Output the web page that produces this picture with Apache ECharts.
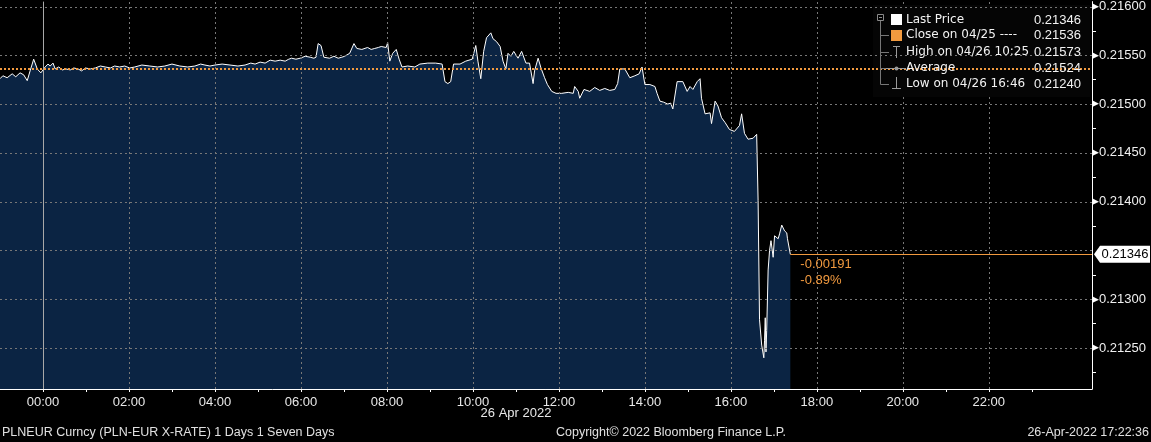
<!DOCTYPE html>
<html>
<head>
<meta charset="utf-8">
<script src="https://cdn.jsdelivr.net/npm/echarts@6/dist/echarts.min.js"></script>
<style>
html,body{margin:0;padding:0;background:#000;}
#chart{width:1151px;height:442px;}
</style>
</head>
<body>
<div id="chart"></div>
<script>
// minutes from 00:00 on 26 Apr 2022 (negative = 25 Apr evening)
const times = [
-60,-56,-50,-43,-38,-32,-27,-22,-18,-13,
-8,-3,3,7,10,14,17,22,27,32,
38,43,49,54,59,66,73,80,87,94,
100,107,114,121,128,138,149,160,170,180,
191,202,212,220,226,233,240,250,261,272,
282,290,296,303,310,317,324,331,338,343,
347,353,359,366,373,378,381,384,388,392,
400,406,412,417,421,428,434,438,445,453,
458,463,468,472,479,481,484,488,493,497,
501,509,519,526,537,548,557,561,565,569,
573,582,590,599,604,607,611,615,619,625,
628,633,638,642,646,649,653,657,663,668,
674,679,684,686,691,695,700,704,710,716,
724,733,740,742,747,749,755,763,770,777,
784,791,798,802,805,812,819,826,832,836,
840,847,854,857,861,866,872,876,879,885,
893,899,903,907,913,917,919,924,931,933,
938,942,947,952,958,965,972,975,979,984,
991,996,998,1000,1003,1006,1007,1008,1009,1010,
1012,1014,1016,1019,1021,1026,1028,1031,1033,1035,
1038,1039,1043
];
const prices = [
0.21526,0.21529,0.21527,0.21531,0.21528,0.21532,0.21530,0.21524,0.21534,0.21546,
0.21536,0.21532,0.21538,0.21541,0.21539,0.21542,0.21536,0.21538,0.21535,0.21536,
0.21535,0.21537,0.21536,0.21534,0.21537,0.21536,0.21537,0.21539,0.21538,0.21537,
0.21539,0.21538,0.21539,0.21537,0.21538,0.21540,0.21539,0.21538,0.21539,0.21541,
0.21539,0.21538,0.21539,0.21541,0.21540,0.21539,0.21540,0.21541,0.21540,0.21539,
0.21540,0.21542,0.21541,0.21543,0.21542,0.21545,0.21544,0.21545,0.21544,0.21546,
0.21547,0.21546,0.21547,0.21549,0.21548,0.21547,0.21548,0.21562,0.21560,0.21548,
0.21547,0.21549,0.21547,0.21548,0.21549,0.21552,0.21562,0.21557,0.21556,0.21558,
0.21556,0.21557,0.21558,0.21559,0.21558,0.21563,0.21544,0.21552,0.21556,0.21546,
0.21538,0.21539,0.21538,0.21541,0.21542,0.21542,0.21541,0.21523,0.21521,0.21523,
0.21541,0.21541,0.21544,0.21546,0.21560,0.21544,0.21526,0.21554,0.21568,0.21573,
0.21567,0.21564,0.21559,0.21544,0.21536,0.21552,0.21549,0.21554,0.21547,0.21554,
0.21542,0.21542,0.21521,0.21534,0.21547,0.21537,0.21527,0.21520,0.21513,0.21511,
0.21511,0.21512,0.21511,0.21518,0.21513,0.21506,0.21515,0.21513,0.21517,0.21514,
0.21516,0.21514,0.21515,0.21521,0.21536,0.21536,0.21527,0.21529,0.21531,0.21538,
0.21520,0.21520,0.21518,0.21511,0.21503,0.21502,0.21500,0.21501,0.21495,0.21523,
0.21523,0.21513,0.21518,0.21515,0.21523,0.21526,0.21506,0.21490,0.21491,0.21480,
0.21503,0.21498,0.21486,0.21481,0.21474,0.21472,0.21478,0.21490,0.21470,0.21464,
0.21465,0.21469,0.21401,0.21279,0.21253,0.21240,0.21258,0.21281,0.21246,0.21268,
0.21330,0.21350,0.21360,0.21343,0.21365,0.21362,0.21367,0.21376,0.21378,0.21370,
0.21368,0.21362,0.21346
];
const closePrice = 0.21536;
const lastPrice = 0.21346;
const changeTexts = ['-0.00191', '-0.89%'];

const xLabelHours = [0,2,4,6,8,10,12,14,16,18,20,22];
const xTickHours = [0,1,2,3,4,5,6,7,8,9,10,11,12,13,14,15,16,17,18,19,20,21,22,23];
const xGridHours = [2,4,6,8,10,12,14,16,18,20,22];
const dayStartHour = 0;
const yGridValues = [0.2125,0.2130,0.2135,0.2140,0.2145,0.2150,0.2155,0.2160];
const yLabelValues = [0.2125,0.2130,0.2140,0.2145,0.2150,0.2155,0.2160];
const yMinorTicks = [0.21225,0.21275,0.21325,0.21375,0.21425,0.21475,0.21525,0.21575];
const dateLabel = '26 Apr 2022';

const legendNames = ['Last Price','Close on 04/25 ----','High on 04/26 10:25','Average','Low on 04/26 16:46'];
const legendValues = ['0.21346','0.21536','0.21573','0.21524','0.21240'];

const footerLeft = 'PLNEUR Curncy (PLN-EUR X-RATE) 1 Days 1 Seven Days';
const footerMid = 'Copyright\u00A9 2022 Bloomberg Finance L.P.';
const footerRight = '26-Apr-2022 17:22:36';

const FONT = 'Liberation Sans, Arial, sans-serif';
const LFONT = 'DejaVu Sans, sans-serif';
const ORANGE = '#f29a3f';
const GRIDC = '#777777';
const X_MIN = -60, X_MAX = 1464;
const Y_MIN = 0.21208, Y_MAX = 0.21605;

const data = times.map((t, i) => [t, prices[i]]);
const lastT = times[times.length - 1];

function pad(n){ return (n < 10 ? '0' : '') + n; }
function crisp(v){ return Math.round(v) + 0.5; }

function vLineRenderer(color, dash){
  return function(params, api){
    const x = api.value(0);
    const a = api.coord([x, Y_MIN]);
    const b = api.coord([x, Y_MAX]);
    const cx = crisp(a[0]);
    return { type:'line', shape:{ x1:cx, y1:a[1], x2:cx, y2:b[1] },
      style:{ stroke:color, lineWidth:1, lineDash:dash, fill:null } };
  };
}
function hLineRenderer(color, dash, width, fromData){
  return function(params, api){
    const y = api.value(1);
    const x0 = fromData ? api.value(0) : X_MIN;
    const a = api.coord([x0, y]);
    const b = api.coord([X_MAX, y]);
    const cy = width % 2 === 1 ? crisp(a[1]) : Math.round(a[1]);
    return { type:'line', shape:{ x1:a[0], y1:cy, x2:b[0], y2:cy },
      style:{ stroke:color, lineWidth:width, lineDash:dash, fill:null } };
  };
}

// legend graphics
const rowY = [20, 35, 52, 68, 84];
const legendGraphics = [];
legendGraphics.push({ type:'rect', shape:{x:873, y:5, width:217, height:92}, style:{fill:'#050505'}, z:3.5 });
legendGraphics.push({ type:'rect', shape:{x:877.5, y:14.5, width:6, height:6}, style:{fill:'#000', stroke:'#8a8a8a', lineWidth:1}, z:11 });
legendGraphics.push({ type:'line', shape:{x1:879, y1:17.5, x2:882, y2:17.5}, style:{stroke:'#8a8a8a', lineWidth:1}, z:11 });
legendGraphics.push({ type:'line', shape:{x1:880.5, y1:21, x2:880.5, y2:84.5}, style:{stroke:'#777', lineWidth:1}, z:11 });
[35,52,68,84].forEach(y => legendGraphics.push({ type:'line', shape:{x1:880.5, y1:y+0.5, x2:889, y2:y+0.5}, style:{stroke:'#777', lineWidth:1}, z:11 }));
legendGraphics.push({ type:'rect', shape:{x:891, y:14, width:11, height:11}, style:{fill:'#ffffff'}, z:11 });
legendGraphics.push({ type:'rect', shape:{x:891, y:30, width:11, height:11}, style:{fill:ORANGE}, z:11 });
legendGraphics.push({ type:'line', shape:{x1:896.5, y1:46, x2:896.5, y2:58}, style:{stroke:'#9a9a9a', lineWidth:1}, z:11 });
legendGraphics.push({ type:'line', shape:{x1:893, y1:46.5, x2:900, y2:46.5}, style:{stroke:'#9a9a9a', lineWidth:1}, z:11 });
legendGraphics.push({ type:'line', shape:{x1:886, y1:68.5, x2:906, y2:68.5}, style:{stroke:'#9a9a9a', lineWidth:1}, z:11 });
legendGraphics.push({ type:'circle', shape:{cx:896.5, cy:68.5, r:2}, style:{fill:'#9a9a9a'}, z:11 });
legendGraphics.push({ type:'line', shape:{x1:896.5, y1:77, x2:896.5, y2:89}, style:{stroke:'#9a9a9a', lineWidth:1}, z:11 });
legendGraphics.push({ type:'line', shape:{x1:892, y1:88.5, x2:901, y2:88.5}, style:{stroke:'#9a9a9a', lineWidth:1}, z:11 });
legendNames.forEach((n, i) => {
  legendGraphics.push({ type:'text', x:906, y:rowY[i], style:{text:n, fill:'#f2f2f2', font:'12px ' + LFONT, textVerticalAlign:'middle', textAlign:'left'}, z:12 });
  legendGraphics.push({ type:'text', x:1081, y:rowY[i], style:{text:legendValues[i], fill:'#f2f2f2', font:'13px ' + FONT, textVerticalAlign:'middle', textAlign:'right'}, z:12 });
});

const chart = echarts.init(document.getElementById('chart'), null, { renderer: 'canvas' });

const option = {
  backgroundColor: '#000000',
  animation: false,
  grid: { left: 0, right: 59, top: 0, bottom: 53, containLabel: false },
  xAxis: {
    type: 'value', min: X_MIN, max: X_MAX,
    axisLine: { show: true, onZero: false, lineStyle: { color: '#ffffff', width: 1 } },
    axisTick: { show: true, customValues: xTickHours.map(h => h * 60), length: 3, lineStyle: { color: '#ffffff' } },
    axisLabel: { customValues: xLabelHours.map(h => h * 60), formatter: v => pad(Math.round(v / 60)) + ':00',
      color: '#e8e8e8', fontSize: 13, fontFamily: FONT, margin: 7 },
    splitLine: { show: false }
  },
  yAxis: {
    type: 'value', position: 'right', min: Y_MIN, max: Y_MAX, scale: true,
    axisLine: { show: true, onZero: false, lineStyle: { color: '#ffffff', width: 1 } },
    axisTick: { show: true, customValues: yMinorTicks, length: 4, lineStyle: { color: '#ffffff' } },
    axisLabel: { customValues: yLabelValues, margin: 0,
      formatter: v => '{a|\u25B6}{b|' + v.toFixed(5) + '}',
      rich: {
        a: { color: '#ffffff', fontSize: 9, fontFamily: 'DejaVu Sans', padding: [0, 0, 0, 0] },
        b: { color: '#f0f0f0', fontSize: 13, fontFamily: FONT }
      } },
    splitLine: { show: false }
  },
  graphic: legendGraphics.concat([
    { type:'text', x:516, y:413, style:{ text: dateLabel, fill:'#e8e8e8', font:'13px ' + FONT, textAlign:'center', textVerticalAlign:'middle' } },
    { type:'text', x:2, y:433, style:{ text: footerLeft, fill:'#e0e0e0', font:'12.5px ' + FONT, textAlign:'left', textVerticalAlign:'middle' } },
    { type:'text', x:556, y:433, style:{ text: footerMid, fill:'#e0e0e0', font:'12.5px ' + FONT, textAlign:'left', textVerticalAlign:'middle' } },
    { type:'text', x:1149, y:433, style:{ text: footerRight, fill:'#e0e0e0', font:'12.5px ' + FONT, textAlign:'right', textVerticalAlign:'middle' } }
  ]),
  series: [
  {
    type: 'line',
    data: data,
    z: 2,
    showSymbol: false,
    symbol: 'none',
    lineStyle: { color: '#ffffff', width: 1 },
    areaStyle: { color: '#0b2443', opacity: 1, origin: 'start' },
    silent: true,
    markPoint: {
      silent: true, animation: false,
      data: [
        { coord: [X_MAX, lastPrice], symbol: 'path://M0,8.5 L6,0 L56,0 L56,17 L6,17 Z', symbolSize: [56, 17],
          symbolOffset: [30, 0], itemStyle: { color: '#ffffff' },
          label: { show: true, formatter: lastPrice.toFixed(5), color: '#000000', fontSize: 13, fontFamily: FONT, position: 'inside', offset: [3, 0] } },
        { coord: [lastT, lastPrice], symbol: 'circle', symbolSize: 0,
          label: { show: true, formatter: changeTexts.join('\n'), color: ORANGE, fontSize: 13, fontFamily: FONT,
            position: [10, 2], lineHeight: 16, align: 'left' } }
      ]
    }
  },
  { type:'custom', silent:true, z:3, clip:false, data: xGridHours.map(h => [h * 60, Y_MIN]),
    renderItem: vLineRenderer(GRIDC, [2, 3]) },
  { type:'custom', silent:true, z:3, clip:false, data: [[dayStartHour * 60, Y_MIN]],
    renderItem: vLineRenderer('#a8a8a8', null) },
  { type:'custom', silent:true, z:4, clip:false, data: yGridValues.map(v => [X_MIN, v]),
    renderItem: hLineRenderer(GRIDC, [2, 3], 1, false) },
  { type:'custom', silent:true, z:4, clip:false, data: [[X_MIN, closePrice]],
    renderItem: hLineRenderer(ORANGE, [2, 2], 2, false) },
  { type:'custom', silent:true, z:4, clip:false, data: [[lastT, lastPrice]],
    renderItem: hLineRenderer(ORANGE, null, 1, true) }
  ]
};
chart.setOption(option);
</script>
</body>
</html>
